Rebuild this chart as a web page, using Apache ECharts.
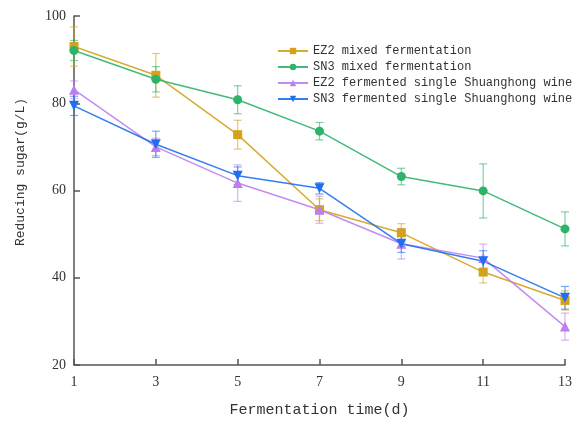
<!DOCTYPE html>
<html><head><meta charset="utf-8">
<script src="https://cdn.jsdelivr.net/npm/echarts@6/dist/echarts.min.js"></script>
<style>html,body{margin:0;padding:0;background:#fff}#c{width:575px;height:423px}</style>
</head><body><div id="c"></div>
<script>
const days = [1, 3, 5, 7, 9, 11, 13];
const seriesNames = ['EZ2 mixed fermentation', 'SN3 mixed fermentation', 'EZ2 fermented single Shuanghong wine', 'SN3 fermented single Shuanghong wine'];
const ez2Mixed = [93.0, 86.4, 72.8, 55.6, 50.3, 41.3, 34.8];
const ez2MixedErr = [4.5, 5.0, 3.3, 2.5, 2.1, 2.5, 2.2];
const sn3Mixed = [92.1, 85.5, 80.8, 73.6, 63.2, 59.9, 51.2];
const sn3MixedErr = [2.3, 2.9, 3.2, 2.0, 1.9, 6.2, 3.9];
const ez2Single = [83.1, 70.0, 61.7, 55.6, 47.8, 44.5, 28.8];
const ez2SingleErr = [2.0, 2.0, 4.2, 3.1, 3.5, 3.2, 3.1];
const sn3Single = [79.4, 70.6, 63.4, 60.5, 47.8, 43.8, 35.4];
const sn3SingleErr = [2.2, 3.0, 2.0, 1.3, 2.0, 2.4, 2.6];
const yTicks = [20, 40, 60, 80, 100];
const xTicks = [1, 3, 5, 7, 9, 11, 13];
const yTitle = 'Reducing sugar(g/L)';
const xTitle = 'Fermentation time(d)';

const colors = ['#d4a21a', '#2eb36a', '#bd7ff0', '#1f6ff0'];
const symbols = ['rect', 'circle', 'triangle', 'path://M0,0 L10,0 L5,9 Z'];
const symSizes = [9, 9, 10, 10];
const vals = [ez2Mixed, sn3Mixed, ez2Single, sn3Single];
const errs = [ez2MixedErr, sn3MixedErr, ez2SingleErr, sn3SingleErr];

const series = [];
vals.forEach((v, i) => {
  series.push({
    type: 'custom',
    silent: true,
    z: 1,
    data: days.map((d, k) => [d, v[k] - errs[i][k], v[k] + errs[i][k]]),
    renderItem: function (params, api) {
      const lo = api.coord([api.value(0), api.value(1)]);
      const hi = api.coord([api.value(0), api.value(2)]);
      const w = 4;
      const st = { stroke: colors[i], lineWidth: 1.2, opacity: 0.6 };
      return { type: 'group', children: [
        { type: 'line', shape: { x1: lo[0], y1: lo[1], x2: hi[0], y2: hi[1] }, style: st },
        { type: 'line', shape: { x1: lo[0] - w, y1: lo[1], x2: lo[0] + w, y2: lo[1] }, style: st },
        { type: 'line', shape: { x1: hi[0] - w, y1: hi[1], x2: hi[0] + w, y2: hi[1] }, style: st }
      ]};
    }
  });
});
vals.forEach((v, i) => {
  series.push({
    name: seriesNames[i],
    type: 'line',
    z: 3,
    data: days.map((d, k) => [d, v[k]]),
    symbol: symbols[i],
    symbolSize: symSizes[i],
    showAllSymbol: true,
    itemStyle: { color: colors[i] },
    lineStyle: { color: colors[i], width: 1.5, opacity: 0.9 }
  });
});

const chart = echarts.init(document.getElementById('c'), null, { renderer: 'canvas' });
chart.setOption({
  animation: false,
  backgroundColor: '#fff',
  grid: { left: 74, right: 10, top: 16, bottom: 54 },
  legend: {
    orient: 'vertical', left: 272, top: 38, itemGap: 0,
    itemWidth: 30, itemHeight: 8,
    data: seriesNames,
    textStyle: { fontFamily: 'Liberation Mono', fontSize: 12, lineHeight: 16, color: '#333' }
  },
  graphic: [{
    type: 'text',
    x: 21, y: 172,
    rotation: Math.PI / 2,
    style: { text: yTitle, font: '13px "Liberation Mono"', fill: '#333', align: 'center', verticalAlign: 'middle' }
  }],
  xAxis: {
    type: 'value', min: 1, max: 13, interval: 2,
    name: xTitle, nameLocation: 'middle', nameGap: 38,
    nameTextStyle: { fontFamily: 'Liberation Mono', fontSize: 15, color: '#333' },
    axisLine: { lineStyle: { color: '#555', width: 1.5 } },
    axisTick: { inside: true, length: 6, lineStyle: { color: '#555', width: 1.5 } },
    axisLabel: { fontFamily: 'Liberation Serif', fontSize: 14, color: '#333', margin: 10,
      formatter: v => xTicks.includes(v) ? String(v) : '' },
    splitLine: { show: false }
  },
  yAxis: {
    type: 'value', min: 20, max: 100, interval: 20,
    axisLine: { show: true, lineStyle: { color: '#555', width: 1.5 } },
    axisTick: { show: true, inside: true, length: 6, lineStyle: { color: '#555', width: 1.5 } },
    axisLabel: { fontFamily: 'Liberation Serif', fontSize: 14, color: '#333', margin: 8,
      formatter: v => yTicks.includes(v) ? String(v) : '' },
    splitLine: { show: false }
  },
  series: series
});
</script></body></html>
